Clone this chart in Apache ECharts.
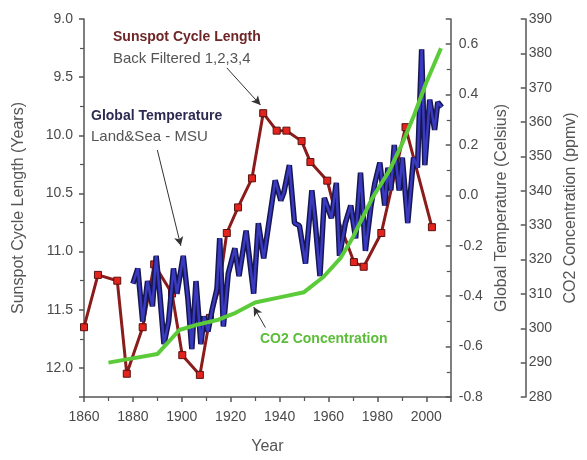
<!DOCTYPE html>
<html>
<head>
<meta charset="utf-8">
<script src="https://cdn.jsdelivr.net/npm/echarts@6/dist/echarts.min.js"></script>
<style>
  html, body { margin: 0; padding: 0; background: #ffffff; }
  #chart { width: 587px; height: 460px; }
</style>
</head>
<body>
<div id="chart"></div>
<script>
// Sunspot cycle length, back filtered (years)
const sunspotYears  = [1860, 1865.7, 1873.6, 1877.5, 1884, 1888.7, 1896, 1900.2, 1907.4, 1911.5, 1915.1, 1918.4, 1923, 1928.7, 1933.3, 1938.8, 1942.8, 1949, 1952.6, 1959.5, 1962.8, 1970.4, 1974.4, 1981.6, 1991.5, 2002.3];
const sunspotLength = [11.65, 11.20, 11.25, 12.05, 11.65, 11.11, 11.36, 11.89, 12.06, 11.57, 11.33, 10.84, 10.62, 10.37, 9.81, 9.96, 9.96, 10.05, 10.23, 10.39, 10.66, 11.09, 11.13, 10.84, 9.93, 10.79];

// Global temperature anomaly, land & sea (Celsius)
const tempYears = [1880, 1882, 1884, 1886, 1888, 1889.5, 1891, 1892.7, 1894.6, 1896.6, 1898, 1900.6, 1902.5, 1904.1, 1905.8, 1907.8, 1909.1, 1910.7, 1912.5, 1914.4, 1915.5, 1917, 1919, 1921.7, 1923.4, 1926.3, 1929.4, 1931.3, 1933.5, 1935.3, 1938.2, 1940.5, 1941.7, 1944, 1946.1, 1948.1, 1950.6, 1953.2, 1954.4, 1956.5, 1958.3, 1961.2, 1963.2, 1964.5, 1966.9, 1969.1, 1971.1, 1973.1, 1975.1, 1977.4, 1979, 1981, 1983, 1984.3, 1985.5, 1986.9, 1988.9, 1990.2, 1992.4, 1994.8, 1996.4, 1998.1, 1999.4, 2001.4, 2003.4, 2004.7, 2006.3];
const tempValues = [-0.35, -0.29, -0.50, -0.34, -0.44, -0.24, -0.39, -0.59, -0.50, -0.29, -0.39, -0.24, -0.41, -0.61, -0.34, -0.59, -0.48, -0.54, -0.45, -0.37, -0.17, -0.52, -0.31, -0.21, -0.32, -0.14, -0.39, -0.11, -0.25, -0.13, 0.06, -0.02, 0.01, 0.12, -0.11, -0.12, -0.27, 0.02, -0.09, -0.32, -0.01, -0.09, 0.05, -0.24, -0.11, -0.04, -0.17, 0.09, -0.22, -0.04, 0.05, 0.13, -0.04, 0.11, 0.02, 0.20, 0.02, 0.15, -0.11, 0.15, 0.11, 0.58, 0.12, 0.38, 0.26, 0.37, 0.35];

// Atmospheric CO2 concentration (ppmv)
const co2Years = [1870, 1890, 1899, 1906, 1915, 1922, 1930, 1940, 1950, 1958, 1965, 1970, 1978, 1985, 1990, 1995, 2000, 2006];
const co2Ppm   = [290, 292.5, 299.5, 301, 302.5, 304.5, 307.5, 309, 310.5, 315, 320.5, 326.5, 338, 346, 353.5, 362, 371.5, 381.5];

// Axis tick settings
const yearTicks    = { min: 1860, max: 2010, step: 20 };
const sunspotTicks = { min: 9.0, max: 12.25, step: 0.5 };
const tempTicks    = { min: -0.8, max: 0.7, step: 0.2 };
const co2Ticks     = { min: 280, max: 390, step: 10 };

const pairs = (xs, ys) => xs.map((x, i) => [x, ys[i]]);

const axisGrey = '#555555';
const labelFont = { color: '#4a4a4a', fontSize: 14, fontFamily: 'Liberation Sans, Arial, sans-serif' };
const nameFont = { color: '#555555', fontSize: 16, fontFamily: 'Liberation Sans, Arial, sans-serif' };

const chart = echarts.init(document.getElementById('chart'), null, { renderer: 'canvas' });

const arrowLine = (from, to) => ({
  silent: true,
  symbol: ['none', 'arrow'],
  symbolSize: [7, 9],
  label: { show: false },
  lineStyle: { color: '#333333', width: 1, type: 'solid' },
  animation: false,
  data: [[{ coord: from }, { coord: to }]]
});

chart.setOption({
  animation: false,
  backgroundColor: '#ffffff',
  grid: { left: 84, right: 124, top: 19, bottom: 58 },
  xAxis: {
    type: 'value',
    min: yearTicks.min, max: yearTicks.max, interval: yearTicks.step,
    name: 'Year', nameLocation: 'middle', nameGap: 42, nameTextStyle: nameFont,
    axisLine: { onZero: false, lineStyle: { color: axisGrey, width: 1.5 } },
    axisTick: { show: true, length: 5, lineStyle: { color: axisGrey, width: 1.5 } },
    minorTick: { show: true, splitNumber: 2, length: 4, lineStyle: { color: axisGrey, width: 1.2 } },
    axisLabel: Object.assign({ margin: 13, showMaxLabel: false, formatter: v => String(v) }, labelFont),
    splitLine: { show: false }
  },
  yAxis: [
    {
      type: 'value', position: 'left', inverse: true,
      min: sunspotTicks.min, max: sunspotTicks.max, interval: sunspotTicks.step,
      name: 'Sunspot Cycle Length (Years)', nameLocation: 'middle', nameGap: 57, nameTextStyle: nameFont,
      axisLine: { show: true, onZero: false, lineStyle: { color: axisGrey, width: 1.5 } },
      axisTick: { show: true, length: 5, lineStyle: { color: axisGrey, width: 1.5 } },
      minorTick: { show: true, splitNumber: 2, length: 4, lineStyle: { color: axisGrey, width: 1.2 } },
      axisLabel: Object.assign({ margin: 11, showMaxLabel: false, formatter: v => v.toFixed(1) }, labelFont),
      splitLine: { show: false }
    },
    {
      type: 'value', position: 'right', offset: 0,
      min: tempTicks.min, max: tempTicks.max, interval: tempTicks.step,
      name: 'Global Temperature (Celsius)', nameLocation: 'middle', nameGap: 43, nameRotate: 90, nameTextStyle: nameFont,
      axisLine: { show: true, onZero: false, lineStyle: { color: axisGrey, width: 1.5 } },
      axisTick: { show: true, inside: true, length: 5, lineStyle: { color: axisGrey, width: 1.5 } },
      minorTick: { show: true, splitNumber: 2, length: 4, lineStyle: { color: axisGrey, width: 1.2 } },
      axisLabel: Object.assign({ margin: 8, showMaxLabel: false, formatter: v => v.toFixed(1) }, labelFont),
      splitLine: { show: false }
    },
    {
      type: 'value', position: 'right', offset: 75,
      min: co2Ticks.min, max: co2Ticks.max, interval: co2Ticks.step,
      name: 'CO2 Concentration (ppmv)', nameLocation: 'middle', nameGap: 34, nameRotate: 90, nameTextStyle: nameFont,
      axisLine: { show: true, onZero: false, lineStyle: { color: axisGrey, width: 1.5 } },
      axisTick: { show: true, inside: true, length: 5, lineStyle: { color: axisGrey, width: 1.5 } },
      axisLabel: Object.assign({ margin: 3 }, labelFont),
      splitLine: { show: false }
    }
  ],
  series: [
    {
      name: 'Sunspot Cycle Length', type: 'line', xAxisIndex: 0, yAxisIndex: 0,
      data: pairs(sunspotYears, sunspotLength),
      symbol: 'rect', symbolSize: 7,
      itemStyle: { color: '#e3241d', borderColor: '#5a1010', borderWidth: 1 },
      lineStyle: { color: '#8a1c1c', width: 3 },
      z: 2,
      markLine: arrowLine([1918.4, 9.42], [1932.2, 9.74])
    },
    {
      name: 'Global Temperature outline', type: 'line', xAxisIndex: 0, yAxisIndex: 1,
      data: pairs(tempYears, tempValues),
      symbol: 'none', lineStyle: { color: '#161650', width: 5.5 }, z: 3,
      markLine: arrowLine([1890, 0.18], [1899.6, -0.2])
    },
    {
      name: 'Global Temperature', type: 'line', xAxisIndex: 0, yAxisIndex: 1,
      data: pairs(tempYears, tempValues),
      symbol: 'none', lineStyle: { color: '#3a3ac0', width: 2.5 }, z: 4
    },
    {
      name: 'CO2 Concentration', type: 'line', xAxisIndex: 0, yAxisIndex: 2,
      data: pairs(co2Years, co2Ppm),
      symbol: 'none', lineStyle: { color: '#5ccb3a', width: 4 }, z: 5,
      markLine: arrowLine([1934.2, 300.2], [1929.4, 306.2])
    }
  ],
  graphic: [
    { type: 'text', left: 113, top: 30, z: 10, style: { text: 'Sunspot Cycle Length', fill: '#6e2626', font: 'bold 14px "Liberation Sans", Arial, sans-serif' } },
    { type: 'text', left: 113, top: 51, z: 10, style: { text: 'Back Filtered 1,2,3,4', fill: '#555555', font: '15px "Liberation Sans", Arial, sans-serif' } },
    { type: 'text', left: 91, top: 109, z: 10, style: { text: 'Global Temperature', fill: '#2b2b52', font: 'bold 14px "Liberation Sans", Arial, sans-serif' } },
    { type: 'text', left: 91, top: 129, z: 10, style: { text: 'Land&Sea - MSU', fill: '#555555', font: '15px "Liberation Sans", Arial, sans-serif' } },
    { type: 'text', left: 260, top: 332, z: 10, style: { text: 'CO2 Concentration', fill: '#5cbd3a', font: 'bold 14px "Liberation Sans", Arial, sans-serif' } }
  ]
});
</script>
</body>
</html>
